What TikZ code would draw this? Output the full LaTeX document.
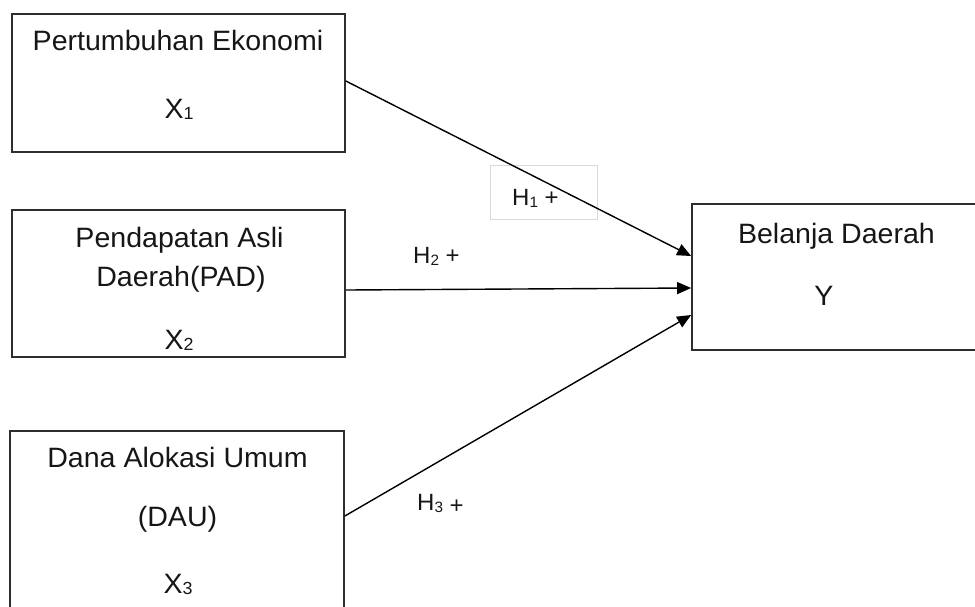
\documentclass[tikz,border=0pt]{standalone}
\usepackage{fontspec}
\setmainfont[FakeStretch=1.02]{Liberation Sans}
\usetikzlibrary{arrows.meta}
\definecolor{boxc}{HTML}{2E2E2E}
\definecolor{txtc}{HTML}{161616}
\definecolor{hboxc}{HTML}{DADADA}
\newcommand{\lsubx}[1]{\raisebox{-1.5pt}{\fontsize{17.5}{18}\selectfont #1}}
\newcommand{\lsubh}[1]{\raisebox{-2pt}{\fontsize{15}{15}\selectfont #1}}
\tikzset{
  boxnode/.style={draw=boxc, line width=1.7pt, rectangle, inner sep=0pt},
  lbl/.style={font=\fontsize{28}{30}\selectfont, text=txtc, anchor=base, inner sep=0pt},
  hlbl/.style={font=\fontsize{23.5}{26}\selectfont, text=txtc, anchor=base west, inner sep=0pt},
  arr/.style={-{Triangle[length=14pt,width=12pt]}, line width=1.4pt, draw=black},
}
\begin{document}
\begin{tikzpicture}[x=1pt,y=-1pt]
\useasboundingbox (0,0) rectangle (975,606);
\clip (0,0) rectangle (975,606);
% boxes
\node[boxnode, minimum width=333pt, minimum height=138pt] (b1) at (178.5,83) {};
\node[boxnode, minimum width=333pt, minimum height=147pt] (b2) at (178.5,283.5) {};
\node[boxnode, minimum width=334pt, minimum height=189pt] (b3) at (177,525.5) {};
\node[boxnode, minimum width=298pt, minimum height=146pt] (by) at (841,277) {};
% H1 label frame
\node[draw=hboxc, line width=0.7pt, fill=white, rectangle, inner sep=0pt,
      minimum width=107pt, minimum height=54pt] (hb) at (543.5,192) {};
% texts
\node[lbl] (t1a) at (178,50) {Pertumbuhan Ekonomi};
\node[lbl] (t1b) at (179,118) {X\lsubx{1}};
\node[lbl] (t2a) at (179.5,247) {Pendapatan Asli};
\node[lbl] (t2b) at (181,286) {Daerah(PAD)};
\node[lbl] (t2c) at (179,349) {X\lsubx{2}};
\node[lbl] (t3a) at (177.5,467) {Dana Alokasi Umum};
\node[lbl] (t3b) at (177.5,526) {(DAU)};
\node[lbl] (t3c) at (178,593) {X\lsubx{3}};
\node[lbl] (tya) at (836.5,243) {Belanja Daerah};
\node[lbl] (tyb) at (824,305) {Y};
% hypothesis labels
\node[hlbl] (h1) at (512,205) {H\lsubh{1} +};
\node[hlbl] (h2) at (413,263) {H\lsubh{2} +};
\node[hlbl] (h3) at (417,510) {H\lsubh{3} \raisebox{-3pt}{+}};
% arrows
\draw[arr] ([yshift=2pt]b1.east) -- ([yshift=21pt]by.west);
\draw[arr] ([yshift=-6.5pt]b2.east) -- ([yshift=-11pt]by.west);
\draw[arr] ([yshift=9.5pt]b3.east) -- ([yshift=-38pt]by.west);
\end{tikzpicture}
\end{document}
